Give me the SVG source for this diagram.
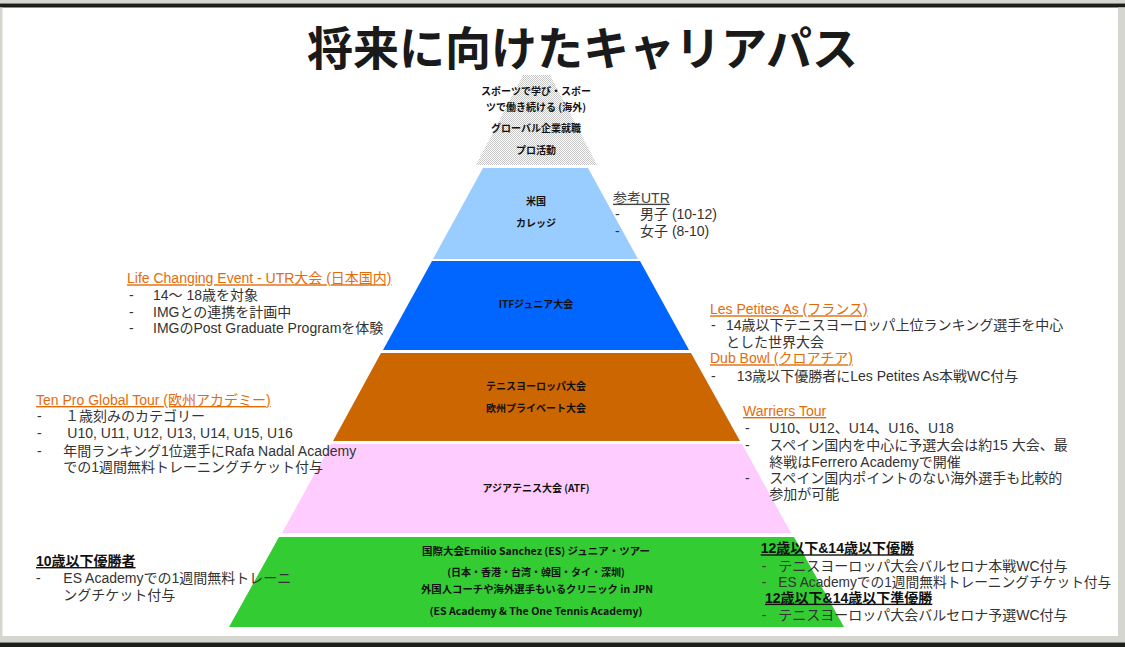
<svg xmlns="http://www.w3.org/2000/svg" width="1125" height="647" viewBox="0 0 1125 647">
<defs>
<pattern id="dots" width="2" height="2" patternUnits="userSpaceOnUse">
<rect width="2" height="2" fill="#ffffff"/>
<rect width="1" height="1" fill="#c6c6c6"/>
<rect x="1" y="1" width="1" height="1" fill="#c6c6c6"/>
</pattern>
<style>
.lv{font-family:"Noto Sans CJK JP","Noto Sans CJK SC",sans-serif;font-weight:bold;font-size:10px;fill:#111;text-anchor:middle}
.an{font-family:"Liberation Sans","Noto Sans CJK JP",sans-serif;font-size:14px;fill:#333}
.hd{fill:#E36C0A;text-decoration:underline}
.gh{fill:#444;text-decoration:underline}
.bh{font-weight:bold;fill:#111;text-decoration:underline}
.ttl{font-family:"Noto Sans CJK JP","Noto Sans CJK SC",sans-serif;font-weight:bold;font-size:46px;fill:#1a1a1a;text-anchor:middle}
</style>
</defs>
<rect width="1125" height="647" fill="#ffffff"/>
<g id="frame">
<rect x="0" y="0" width="1125" height="3.5" fill="#d6d6d0"/>
<rect x="0" y="3.5" width="1125" height="4" fill="#1b1e1b"/>
<rect x="0" y="7.5" width="2.5" height="629" fill="#d6d6d0"/>
<rect x="1118" y="7.5" width="7" height="629" fill="#d6d6d0"/>
<rect x="0" y="636" width="1125" height="6.5" fill="#d6d6d0"/>
<rect x="0" y="642.5" width="1125" height="4.5" fill="#1b1e1b"/>
</g>
<g id="title"><text class="ttl" x="582.5" y="65">将来に向けたキャリアパス</text></g>
<g id="level-pro">
<polygon points="523,75 550,75 597,165 476,165" fill="url(#dots)"/>
<text class="lv" x="536" y="94.5">スポーツで学び・スポー</text>
<text class="lv" x="536" y="111">ツで働き続ける (海外)</text>
<text class="lv" x="536" y="132">グローバル企業就職</text>
<text class="lv" x="536" y="153.5">プロ活動</text>
</g>
<g id="level-college">
<polygon points="483,168 588,168 638,259 433,259" fill="#99CCFF"/>
<text class="lv" x="536" y="205.3">米国</text>
<text class="lv" x="536" y="226.6">カレッジ</text>
</g>
<g id="level-itf">
<polygon points="432,261 640,261 689,350 383,350" fill="#0066FF"/>
<text class="lv" x="536" y="307.6">ITFジュニア大会</text>
</g>
<g id="level-europe">
<polygon points="381,353 691,353 740,441 333,441" fill="#CC6600"/>
<text class="lv" x="536" y="389.6">テニスヨーロッパ大会</text>
<text class="lv" x="536" y="411.6">欧州プライベート大会</text>
</g>
<g id="level-atf">
<polygon points="331,444 742,444 791,533 282,533" fill="#FFCCFF"/>
<text class="lv" x="536" y="491.6">アジアテニス大会 (ATF)</text>
</g>
<g id="level-es">
<polygon points="279,537 794,537 844,627 229,627" fill="#33CC33"/>
<text class="lv" x="536" y="554.6" textLength="228" lengthAdjust="spacingAndGlyphs">国際大会Emilio Sanchez (ES) ジュニア・ツアー</text>
<text class="lv" x="536" y="575.6">(日本・香港・台湾・韓国・タイ・深圳)</text>
<text class="lv" x="537" y="592.6" textLength="232" lengthAdjust="spacingAndGlyphs">外国人コーチや海外選手もいるクリニック in JPN</text>
<text class="lv" x="536" y="615" textLength="213" lengthAdjust="spacingAndGlyphs">(ES Academy &amp; The One Tennis Academy)</text>
</g>
<g id="note-utr" class="an">
<text class="gh" x="613" y="202.7">参考UTR</text>
<text x="615" y="219">-</text><text x="640" y="219">男子 (10-12)</text>
<text x="615" y="236">-</text><text x="640" y="236">女子 (8-10)</text>
</g>
<g id="note-life" class="an">
<text class="hd" x="127" y="283.3">Life Changing Event - UTR大会 (日本国内)</text>
<text x="129" y="300">-</text><text x="153" y="300">14～ 18歳を対象</text>
<text x="129" y="316.7">-</text><text x="153" y="316.7">IMGとの連携を計画中</text>
<text x="129" y="333.3">-</text><text x="153" y="333.3">IMGのPost Graduate Programを体験</text>
</g>
<g id="note-lespetites" class="an">
<text class="hd" x="710" y="314.3">Les Petites As (フランス)</text>
<text x="711" y="330">-</text><text x="726" y="330">14歳以下テニスヨーロッパ上位ランキング選手を中心</text>
<text x="726" y="346.7">とした世界大会</text>
<text class="hd" x="710" y="363.3">Dub Bowl (クロアチア)</text>
<text x="711" y="381">-</text><text x="736.7" y="381">13歳以下優勝者にLes Petites As本戦WC付与</text>
</g>
<g id="note-tenpro" class="an">
<text class="hd" x="36" y="405">Ten Pro Global Tour (欧州アカデミー)</text>
<text x="37" y="421">-</text><text x="65" y="421">１歳刻みのカテゴリー</text>
<text x="37" y="438.3">-</text><text x="67.3" y="438.3">U10, U11, U12, U13, U14, U15, U16</text>
<text x="37" y="455.7">-</text><text x="63.3" y="455.7">年間ランキング1位選手にRafa Nadal Academy</text>
<text x="63.3" y="472.3">での1週間無料トレーニングチケット付与</text>
</g>
<g id="note-warriers" class="an">
<text class="hd" x="743" y="416">Warriers Tour</text>
<text x="745" y="433.3">-</text><text x="769.3" y="433.3">U10、U12、U14、U16、U18</text>
<text x="745" y="450">-</text><text x="769.3" y="450">スペイン国内を中心に予選大会は約15 大会、最</text>
<text x="769.3" y="466.7">終戦はFerrero Academyで開催</text>
<text x="745" y="483.3">-</text><text x="769.3" y="483.3">スペイン国内ポイントのない海外選手も比較的</text>
<text x="769.3" y="499.3">参加が可能</text>
</g>
<g id="note-u10" class="an">
<text class="bh" x="36" y="566">10歳以下優勝者</text>
<text x="36" y="583.3">-</text><text x="63.3" y="583.3">ES Academyでの1週間無料トレーニ</text>
<text x="63.3" y="600">ングチケット付与</text>
</g>
<g id="note-u12" class="an">
<text class="bh" x="760.7" y="553.3">12歳以下&amp;14歳以下優勝</text>
<text x="761.7" y="571">-</text><text x="778.3" y="571">テニスヨーロッパ大会バルセロナ本戦WC付与</text>
<text x="761.7" y="586.7">-</text><text x="778.3" y="586.7" textLength="333" lengthAdjust="spacingAndGlyphs">ES Academyでの1週間無料トレーニングチケット付与</text>
<text class="bh" x="765" y="602.7">12歳以下&amp;14歳以下準優勝</text>
<text x="761.7" y="620">-</text><text x="778.3" y="620">テニスヨーロッパ大会バルセロナ予選WC付与</text>
</g>
<g id="connectors"/>
</svg>
